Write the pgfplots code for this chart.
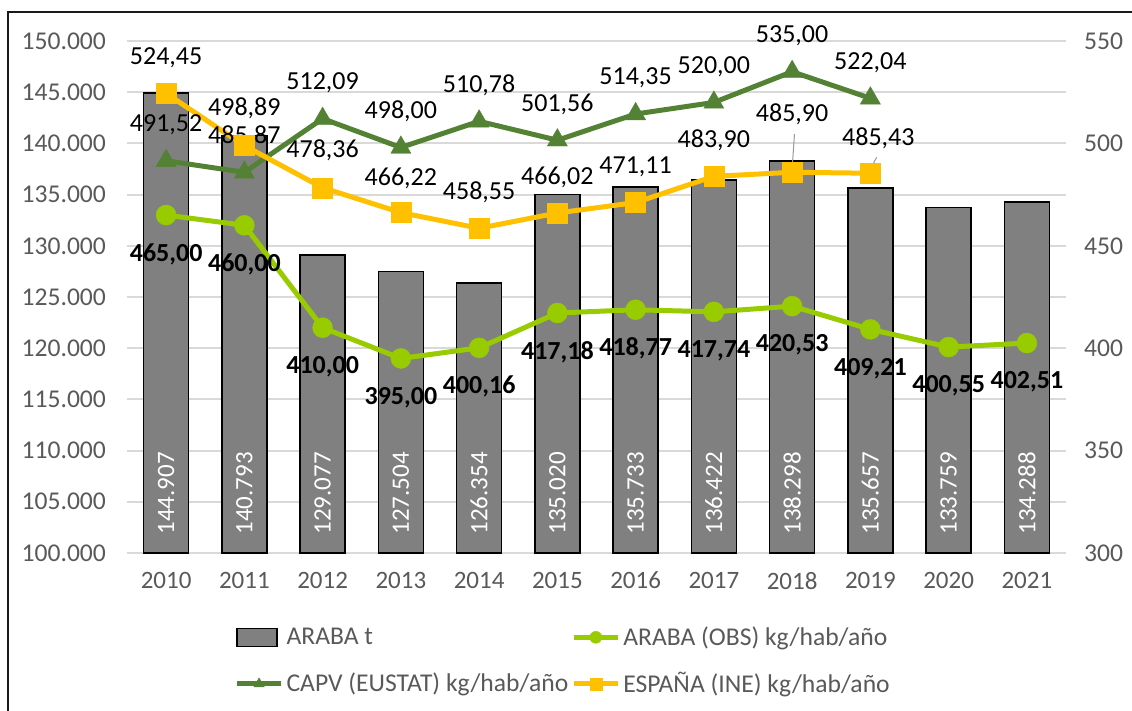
\documentclass[border=0pt]{standalone}
\usepackage{fontspec}
\setmainfont{Carlito}
\usepackage{pgfplots}
\pgfplotsset{compat=1.18}
\definecolor{tickgray}{HTML}{595959}
\definecolor{gridgray}{HTML}{D9D9D9}
\definecolor{bargray}{HTML}{808080}
\definecolor{obsgreen}{HTML}{99CC00}
\definecolor{capvgreen}{HTML}{548235}
\definecolor{espcol}{HTML}{FFC000}
\pgfplotsset{
  barleg/.style={legend image code/.code={\draw[##1] (0pt,-4.5pt) rectangle (20pt,4.5pt);}},
  lineleg/.style={legend image code/.code={\draw[mark repeat=2,mark phase=2,##1] plot coordinates {(0pt,0pt) (11pt,0pt) (22pt,0pt)};}},
}
\begin{document}
\begin{tikzpicture}
\pgfplotsset{
  common/.style={width=469.5pt, height=256pt, scale only axis,
    xmin=-0.5, xmax=11.5, at={(0,0)}, anchor=south west,
    major tick length=0pt, axis line style={draw=none},
    tick label style={font=\fontsize{12.8}{14}\selectfont, text=tickgray},
    /pgf/number format/assume math mode=true,
    clip=false}
}
\begin{axis}[common,
  ymin=100000, ymax=150000,
  ytick={100000,105000,110000,115000,120000,125000,130000,135000,140000,145000,150000},
  scaled y ticks=false,
  /pgf/number format/fixed,
  /pgf/number format/1000 sep={.},
  yticklabel style={xshift=-7pt},
  xticklabel style={yshift=-6pt, font=\fontsize{12.5}{14}\selectfont},
  ymajorgrids, grid style={gridgray, line width=1pt},
  xtick={0,1,2,3,4,5,6,7,8,9,10,11},
  xticklabels={2010,2011,2012,2013,2014,2015,2016,2017,2018,2019,2020,2021},
]
\addplot[ybar, bar width=22.5pt, fill=bargray, draw=black, line width=0.75pt] coordinates {
(0,144907) (1,140793) (2,129077) (3,127504) (4,126354) (5,135020)
(6,135733) (7,136422) (8,138298) (9,135657) (10,133759) (11,134288)};
\addplot[draw=none, mark=none, nodes near coords, point meta=explicit symbolic,
  every node near coord/.append style={rotate=90, anchor=west, inner sep=0pt,
  text=white, font=\fontsize{12.5}{14}\selectfont}] table[meta=lab] {
x y lab
0 101758 144.907
1 101758 140.793
2 101758 129.077
3 101758 127.504
4 101758 126.354
5 101758 135.020
6 101758 135.733
7 101758 136.422
8 101758 138.298
9 101758 135.657
10 101758 133.759
11 101758 134.288
};
\end{axis}
\begin{axis}[common,
  ymin=300, ymax=550,
  ytick={300,350,400,450,500,550},
  axis x line=none, axis y line*=right,
  yticklabel style={xshift=5.5pt},
  legend columns=2,
  legend style={at={(0.465,-0.211)}, anchor=center, draw=none, fill=none,
    font=\fontsize{12.8}{14}\selectfont, text=tickgray, row sep=8pt, column sep=0pt,
    nodes={inner xsep=1.5pt}},
  legend cell align=left,
  lineleg,
  legend image post style={mark size=3pt},
]
\addlegendimage{fill=bargray, draw=black, line width=0.75pt, barleg}
\addlegendentry{ARABA t}
\addplot[obsgreen, line width=2.5pt, mark=*, mark size=5pt,
  mark options={solid, fill=obsgreen, line width=0.2pt},
  nodes near coords, point meta=explicit symbolic,
  every node near coord/.append style={anchor=center, yshift=-19.5pt, text=black,
  font=\bfseries\fontsize{13}{15}\selectfont}] table[meta=lab] {
x y lab
0 465 465,00
1 460 460,00
2 410 410,00
3 395 395,00
4 400.16 400,16
5 417.18 417,18
6 418.77 418,77
7 417.74 417,74
8 420.53 420,53
9 409.21 409,21
10 400.55 400,55
11 402.51 402,51
};
\addlegendentry{ARABA (OBS) kg/hab/año}
\addplot[capvgreen, line width=2.5pt, mark=triangle*, mark size=5.8pt,
  mark options={solid, fill=capvgreen, line width=0.2pt},
  nodes near coords, point meta=explicit symbolic,
  every node near coord/.append style={anchor=center, yshift=18pt, text=black,
  font=\fontsize{13}{15}\selectfont}] table[meta=lab] {
x y lab
0 491.52 491,52
1 485.87 485,87
2 512.09 512,09
3 498.00 498,00
4 510.78 510,78
5 501.56 501,56
6 514.35 514,35
7 520.00 520,00
8 535.00 535,00
9 522.04 522,04
};
\addlegendentry{CAPV (EUSTAT) kg/hab/año}
\addplot[espcol, line width=2.5pt, mark=square*, mark size=5pt,
  mark options={solid, fill=espcol, line width=0.2pt},
  nodes near coords, point meta=explicit symbolic,
  visualization depends on=value \thisrow{dy}\as\mydy,
  visualization depends on=value \thisrow{dx}\as\mydx,
  every node near coord/.append style={anchor=center, xshift=\mydx pt, yshift=\mydy pt, text=black,
  font=\fontsize{13}{15}\selectfont}] table[meta=lab] {
x y lab dx dy
0 524.45 524,45 0 18
1 498.89 498,89 0 18.5
2 478.36 478,36 0 18.5
3 466.22 466,22 0 17
4 458.55 458,55 0 18
5 466.02 466,02 0 18
6 471.11 471,11 0 18
7 483.90 483,90 0 18
8 485.90 485,90 0 29
9 485.43 485,43 4 17.5
};
\addlegendentry{ESPAÑA (INE) kg/hab/año}
\draw[black!40, line width=0.5pt] (axis cs:8.03,504.5) -- (axis cs:8,487.5);
\draw[black!40, line width=0.5pt] (axis cs:9.08,493.2) -- (axis cs:8.99,486.8);
\end{axis}
\draw[line width=1pt, black!90] (-59.5pt,-80pt) -- (-59.5pt,270.5pt) -- (503pt,270.5pt);
\pgfresetboundingbox
\path (-63.5pt,-79pt) rectangle (502.5pt,276.5pt);
\end{tikzpicture}
\end{document}
